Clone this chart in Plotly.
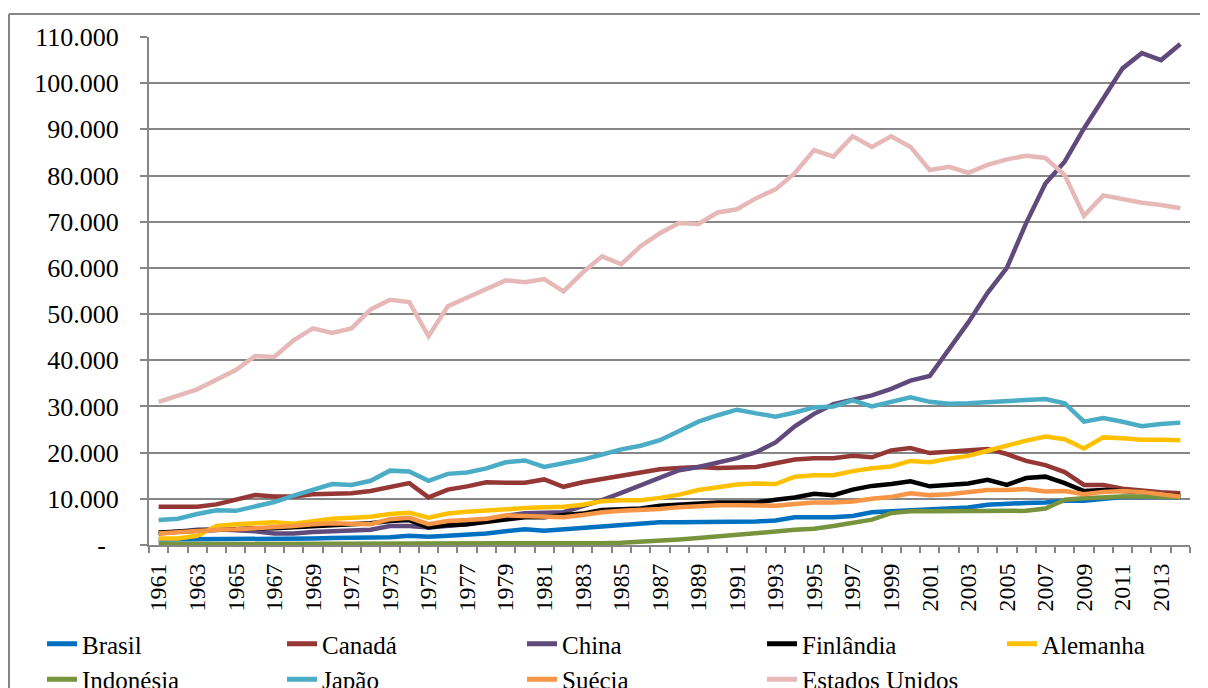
import plotly.graph_objects as go

years = list(range(1961, 2015))

brasil = [1200,1200,1200,1200,1200, 1400,1400,1400,1400,1500,
          1500,1600,1700,2000,1800, 2000,2200,2500,3000,3400,
          3100,3400,3600,3900,4200, 4700,4900,4900,4900,4900,
          4900,5100,5300,6000,6000, 6000,6300,7100,7300,7500,
          7600,7900,8100,8700,9000, 9100,9200,9600,9600,10100,
          10400,10400,10400,10400]
canada = [8300,8300,8300,8800,9900, 10800,10500,10500,11000,11200,
          11200,11700,12500,13400,10300, 12000,12700,13600,13500,13500,
          14200,12600,13600,14300,14800, 15600,16400,16700,16900,16700,
          16900,16900,17700,18500,18800, 18800,19300,19000,20500,21000,
          19900,20200,20300,20800,19700, 18200,17300,15800,13000,13000,
          12200,11700,11400,11200]
china = [2500,3000,3300,3400,3300, 3000,2500,2500,2800,3000,
         3300,3300,4100,4100,3800, 4100,4500,5200,6300,6900,
         6900,7100,8400,9700,11300, 12900,14500,16200,16900,17800,
         18800,20100,22200,25700,28400, 30500,31500,32400,33800,35600,
         36600,42400,48200,54600,60000, 69700,78300,83000,90200,96700,
         103200,106500,105000,108500]
finlandia = [2700,2900,3000,3300,3400, 3600,3600,3800,4000,4100,
             4300,4700,5200,5400,3800, 4300,4500,4900,5500,6000,
             6000,6500,6800,7600,7800, 7900,8500,8700,9100,9200,
             9200,9200,9800,10300,11100, 10800,12000,12800,13200,13800,
             12700,13000,13300,14100,13000, 14500,14800,13400,11700,11900,
             11700,11500,11000,10600]
alemanha = [1400,1400,2000,4100,4500, 4700,4900,4600,5200,5700,
            5900,6100,6700,7000,5900, 6800,7200,7500,7900,8000,
            8200,8300,8700,9500,9700, 9700,10200,10900,11900,12500,
            13100,13300,13200,14800,15100, 15100,16000,16600,17000,18200,
            17900,18700,19300,20400,21600, 22600,23500,22900,20900,23300,
            23100,22800,22800,22700]
indonesia = [200,200,200,200,250, 250,250,250,300,300,
             300,300,300,300,300, 350,350,400,400,400,
             300,350,350,400,500, 700,800,1200,1500,1800,
             2200,2500,2900,3300,3500, 4100,4700,5500,6900,7300,
             7300,7300,7300,7400,7400, 7400,7900,9800,10100,10400,
             10500,10500,10400,10400]
japao = [5400,5700,6700,7500,7400, 8300,9300,10700,11900,13200,
         13000,13900,16100,15900,13900, 15400,15700,16600,17900,18300,
         16900,17600,18500,19600,20700, 21500,22700,24700,26700,28100,
         29300,28500,27800,28700,29800, 30000,31300,30000,30900,32000,
         31000,30600,30700,31000,31100, 31400,31600,30700,26700,27500,
         26700,25700,26200,26500]
suecia = [2500,2800,3000,3300,3400, 3600,3900,4100,4500,4700,
          4600,4500,5600,5900,4500, 5200,5400,5700,6400,6300,
          6200,6000,6500,7100,7400, 7500,7800,8200,8500,8600,
          8600,8600,8500,8900,9200, 9200,9400,10000,10400,11200,
          10800,11000,11400,11900,11900, 12100,11600,11700,11000,11500,
          11700,11500,11000,10500]
eua = [31000,32400,33700,35800,37900, 40900,40700,44300,46900,45900,
       46900,51000,53100,52600,45200, 51700,53500,55300,57300,56900,
       57600,54900,59000,62500,60800, 64700,67500,69700,69500,72000,
       72700,75100,77000,80500,85500, 84100,88500,86200,88500,86200,
       81200,81900,80600,82300,83500, 84300,83800,80100,71300,75700,
       74900,74100,73600,72900]

series_names = ["Brasil", "Canadá", "China", "Finlândia", "Alemanha",
                "Indonésia", "Japão", "Suécia", "Estados Unidos"]
series_values = [brasil, canada, china, finlandia, alemanha,
                 indonesia, japao, suecia, eua]
series_colors = ["#0070C0", "#953735", "#604A7B", "#000000", "#FFC000",
                 "#77933C", "#4BACC6", "#F79646", "#E6B9B8"]

y_tickvals = list(range(0, 110001, 10000))
y_ticktext = ["-<span style='color:rgba(0,0,0,0)'>0</span>"] + \
             [f"{v//1000}.000" for v in y_tickvals[1:]]
x_tickvals = list(range(1961, 2014, 2))
x_ticktext = [str(y) for y in x_tickvals]

FONT = "Times New Roman, Liberation Serif, DejaVu Serif, serif"
GRAY = "#868686"

fig = go.Figure()
for name, vals, col in zip(series_names, series_values, series_colors):
    fig.add_trace(go.Scatter(x=years, y=vals, name=name, mode="lines",
                             line=dict(color=col, width=4.5)))

# page has an 8px body margin; figure occupies page x 8..1208, y 8..688
OFF = 8
W, H = 1200, 680
plot_left, plot_right, plot_top, plot_bottom = 149, 1190, 37, 545
ml = plot_left - OFF
mt = plot_top - OFF
mb = (H + OFF) - plot_bottom
mr = 0
gw = W - ml - mr
gh = H - mt - mb

def px_x(p):
    return (p - plot_left) / gw

def px_y(p):
    return (plot_bottom - p) / gh

fig.update_layout(
    width=W, height=H,
    margin=dict(l=ml, r=mr, t=mt, b=mb, autoexpand=False),
    paper_bgcolor="white", plot_bgcolor="white",
    font=dict(family=FONT, size=25, color="black"),
    showlegend=True,
    legend=dict(orientation="h", x=px_x(42), xanchor="left",
                y=px_y(621), yanchor="top",
                entrywidth=195, entrywidthmode="pixels",
                font=dict(family=FONT, size=25, color="black"),
                bgcolor="rgba(0,0,0,0)", tracegroupgap=0,
                itemsizing="constant"),
    xaxis=dict(domain=[0, (plot_right - plot_left) / gw], range=[1960.5, 2014.5],
               tickmode="array", tickvals=x_tickvals, ticktext=x_ticktext,
               tickangle=-90, ticks="outside", ticklen=7,
               tickcolor="rgba(0,0,0,0)",
               tickfont=dict(family=FONT, size=24, color="black"),
               showgrid=False, zeroline=False,
               showline=True, linecolor=GRAY, linewidth=2,
               minor=dict(tick0=1960.5, dtick=1, ticks="outside", ticklen=6,
                          tickcolor=GRAY, tickwidth=2, showgrid=False)),
    yaxis=dict(range=[0, 110000], tickmode="array", tickvals=y_tickvals,
               ticktext=y_ticktext, ticks="outside", ticklen=7,
               tickcolor=GRAY, tickwidth=2, ticklabelstandoff=16,
               tickfont=dict(family=FONT, size=26, color="black"),
               showgrid=True, gridcolor=GRAY, gridwidth=2,
               zeroline=False, showline=True, linecolor=GRAY, linewidth=2),
    shapes=[
        dict(type="line", xref="paper", yref="paper",
             x0=px_x(9), x1=px_x(1212), y0=px_y(14), y1=px_y(14),
             line=dict(color=GRAY, width=2), layer="below"),
        dict(type="line", xref="paper", yref="paper",
             x0=px_x(9), x1=px_x(9), y0=px_y(14), y1=px_y(700),
             line=dict(color=GRAY, width=2), layer="below"),
    ],
)

fig.write_html("out.html")
